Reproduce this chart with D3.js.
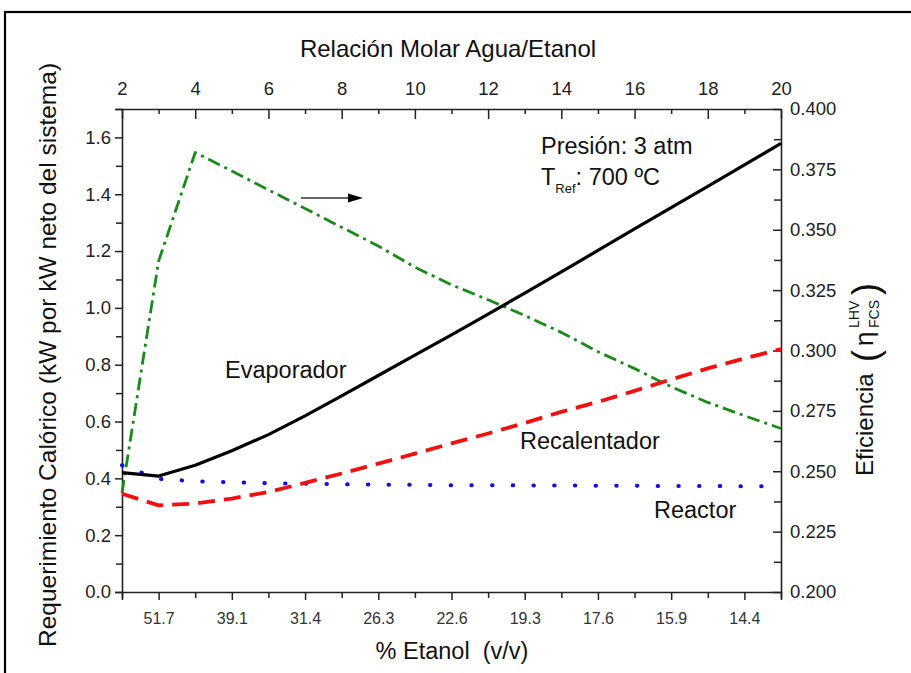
<!DOCTYPE html>
<html>
<head>
<meta charset="utf-8">
<script src="https://cdn.jsdelivr.net/npm/d3@7"></script>
<style>
  html, body { margin: 0; padding: 0; background: #fff; }
  svg { display: block; font-family: "Liberation Sans", Arial, sans-serif; }
</style>
</head>
<body>
<svg id="chart" width="911" height="673"></svg>
<script>
// ---- Data ----
const ratio = [2,3,4,5,6,7,8,9,10,11,12,13,14,15,16,17,18,19,20];
const evaporador   = [0.420,0.408,0.446,0.497,0.554,0.620,0.690,0.762,0.834,0.905,0.978,1.052,1.127,1.202,1.278,1.353,1.428,1.503,1.579];
const recalentador = [0.346,0.305,0.311,0.329,0.352,0.384,0.417,0.452,0.487,0.523,0.558,0.595,0.634,0.669,0.708,0.748,0.787,0.822,0.855];
const reactor      = [0.446,0.398,0.390,0.386,0.383,0.381,0.379,0.378,0.377,0.376,0.376,0.375,0.375,0.374,0.374,0.373,0.373,0.372,0.372];
const eficiencia   = [0.241,0.337,0.382,0.3743,0.3665,0.3588,0.3510,0.3433,0.3345,0.3272,0.3210,0.3145,0.3075,0.2995,0.2925,0.2850,0.2785,0.2730,0.2677];

const topTickValues = [2,4,6,8,10,12,14,16,18,20];
const topMinorValues = [3,5,7,9,11,13,15,17,19];
const bottomTickPos = [3,5,7,9,11,13,15,17,19];
const bottomTickLabels = ["51.7","39.1","31.4","26.3","22.6","19.3","17.6","15.9","14.4"];
const bottomMinorPos = [2,4,6,8,10,12,14,16,18,20];
const leftTickValues = [0,0.2,0.4,0.6,0.8,1.0,1.2,1.4,1.6];
const leftMinorValues = [0.1,0.3,0.5,0.7,0.9,1.1,1.3,1.5,1.7];
const rightTickValues = [0.200,0.225,0.250,0.275,0.300,0.325,0.350,0.375,0.400];
const rightMinorValues = [0.2125,0.2375,0.2625,0.2875,0.3125,0.3375,0.3625,0.3875];

// ---- Layout ----
const L = 122, R = 781, T = 109, B = 592;
const svg = d3.select("#chart");

// outer frame
svg.append("rect").attr("x",5).attr("y",12).attr("width",920).attr("height",680)
  .attr("fill","none").attr("stroke","#000").attr("stroke-width",2.2);

const x = d3.scaleLinear().domain([2,20]).range([L,R]);
const yL = d3.scaleLinear().domain([0,1.7]).range([B,T]);
const yR = d3.scaleLinear().domain([0.2,0.4]).range([B,T]);

function styleAxis(g, fs, color){
  g.select(".domain").attr("stroke","#222").attr("stroke-width",1.6);
  g.selectAll(".tick line").attr("stroke","#222").attr("stroke-width",1.5);
  g.selectAll(".tick text").attr("font-size",fs).attr("fill",color||"#222")
    .attr("font-family","'Liberation Sans', Arial, sans-serif");
}

// left axis
const gl = svg.append("g").attr("transform",`translate(${L},0)`)
  .call(d3.axisLeft(yL).tickValues(leftTickValues).tickSize(7).tickPadding(4).tickFormat(d3.format(".1f")));
styleAxis(gl,18.5);
const glm = svg.append("g").attr("transform",`translate(${L},0)`)
  .call(d3.axisLeft(yL).tickValues(leftMinorValues).tickSize(6).tickFormat(""));
styleAxis(glm,18); glm.select(".domain").remove();

// right axis
const gr = svg.append("g").attr("transform",`translate(${R},0)`)
  .call(d3.axisRight(yR).tickValues(rightTickValues).tickSizeInner(-8).tickSizeOuter(0).tickPadding(9).tickFormat(d3.format(".3f")));
styleAxis(gr,18.5);
const grm = svg.append("g").attr("transform",`translate(${R},0)`)
  .call(d3.axisRight(yR).tickValues(rightMinorValues).tickSizeInner(-7).tickSizeOuter(0).tickFormat(""));
styleAxis(grm,18); grm.select(".domain").remove();

// top axis
const gt = svg.append("g").attr("transform",`translate(0,${T})`)
  .call(d3.axisTop(x).tickValues(topTickValues).tickSizeInner(-10).tickSizeOuter(0).tickPadding(14).tickFormat(d3.format("d")));
styleAxis(gt,18.5);
const gtm = svg.append("g").attr("transform",`translate(0,${T})`)
  .call(d3.axisTop(x).tickValues(topMinorValues).tickSizeInner(-5).tickSizeOuter(0).tickFormat(""));
styleAxis(gtm,18); gtm.select(".domain").remove();

// bottom axis
const gb = svg.append("g").attr("transform",`translate(0,${B})`)
  .call(d3.axisBottom(x).tickValues(bottomTickPos).tickSize(8).tickPadding(13)
    .tickFormat((d,i)=>bottomTickLabels[i]));
styleAxis(gb,16,"#333");
const gbm = svg.append("g").attr("transform",`translate(0,${B})`)
  .call(d3.axisBottom(x).tickValues(bottomMinorPos).tickSize(6).tickFormat(""));
styleAxis(gbm,16); gbm.select(".domain").remove();

// ---- Lines ----
const plot = svg.append("g");
function addLine(vals, scale, color, width, dash, cap){
  const line = d3.line().x((d,i)=>x(ratio[i])).y(d=>scale(d));
  plot.append("path").datum(vals).attr("d",line)
    .attr("fill","none").attr("stroke",color).attr("stroke-width",width)
    .attr("stroke-dasharray",dash||null).attr("stroke-linecap",cap||"butt")
    .attr("stroke-linejoin","round");
}
addLine(eficiencia, yR, "#1a8a1a", 2.8, "13,5,3,5");
addLine(reactor, yL, "#1010e0", 4, "0.5,20.2", "round");
addLine(recalentador, yL, "#f01010", 3.8, "17,9");
addLine(evaporador, yL, "#000", 3.2);

// ---- Annotations ----
const ann = svg.append("g").attr("font-size",23.5).attr("fill","#111");
ann.append("text").attr("x",225).attr("y",378).text("Evaporador");
ann.append("text").attr("x",520).attr("y",449).text("Recalentador");
ann.append("text").attr("x",654).attr("y",518).text("Reactor");
ann.append("text").attr("x",541).attr("y",154).text("Presión: 3 atm");
const tref = ann.append("text").attr("x",541).attr("y",185);
tref.append("tspan").text("T");
tref.append("tspan").attr("font-size",13).attr("dy",8).text("Ref");
tref.append("tspan").attr("dy",-8).text(": 700 ºC");

// arrow
svg.append("line").attr("x1",301).attr("y1",198).attr("x2",350).attr("y2",198)
  .attr("stroke","#333").attr("stroke-width",1.6);
svg.append("path").attr("d","M348,193.5 L363,198 L348,202.5 Z").attr("fill","#000");

// ---- Axis titles ----
svg.append("text").attr("x",448).attr("y",57).attr("text-anchor","middle")
  .attr("font-size",24).attr("fill","#111").text("Relación Molar Agua/Etanol");
svg.append("text").attr("x",452).attr("y",659).attr("text-anchor","middle")
  .attr("font-size",23.5).attr("fill","#111").attr("xml:space","preserve").text("% Etanol  (v/v)");
svg.append("text").attr("transform","translate(56,355) rotate(-90)").attr("text-anchor","middle")
  .attr("font-size",24.5).attr("fill","#111").text("Requerimiento Calórico (kW por kW neto del sistema)");

// right title: Eficiencia (η LHV/FCS)
const rt = svg.append("g").attr("transform","translate(873,476) rotate(-90)").attr("fill","#111");
rt.append("text").attr("x",0).attr("y",0).attr("font-size",24).text("Eficiencia");
rt.append("text").attr("x",114).attr("y",5).attr("font-size",36).text("(");
rt.append("text").attr("x",130).attr("y",0).attr("font-size",26).text("η");
rt.append("text").attr("x",148).attr("y",-14).attr("font-size",14).text("LHV");
rt.append("text").attr("x",148).attr("y",6).attr("font-size",14).text("FCS");
rt.append("text").attr("x",181).attr("y",5).attr("font-size",36).text(")");
</script>
</body>
</html>
